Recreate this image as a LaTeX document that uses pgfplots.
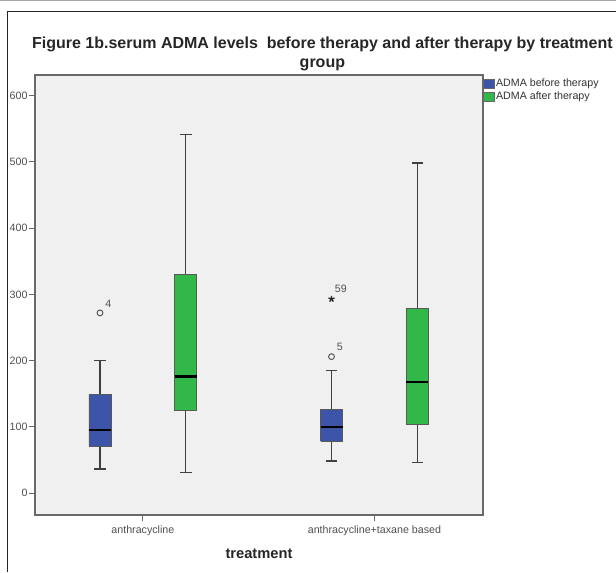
\documentclass[border=0pt]{standalone}
\usepackage{pgfplots}
\pgfplotsset{compat=1.18}
\usepackage{fontspec}
\setmainfont{Liberation Sans}
\definecolor{admablue}{RGB}{61,85,168}
\definecolor{admagreen}{RGB}{50,184,72}
\definecolor{axgray}{RGB}{105,105,105}
\definecolor{txtgray}{RGB}{80,80,80}
\definecolor{plotbg}{RGB}{240,240,240}
\begin{document}
\begin{tikzpicture}
\path[use as bounding box, fill=white] (0pt,0pt) rectangle (462pt,429pt);
\draw[gray!70, line width=0.6pt] (0pt,428.4pt) -- (462pt,428.4pt);
\draw[black!85, line width=0.7pt] (5.6pt,0pt) -- (5.6pt,420.5pt) -- (462pt,420.5pt);
\node[align=center, font=\bfseries\fontsize{12}{13.6}\selectfont, text=black!85, inner sep=0pt] at (241.8pt,388.6pt)
  {Figure 1b.serum ADMA levels\ \ before therapy and after therapy by treatment\\group};
\begin{axis}[
  at={(26.25pt,42.75pt)}, anchor=south west,
  scale only axis, width=336pt, height=330pt,
  xmin=0.534, xmax=2.469, ymin=-33, ymax=631,
  axis background/.style={fill=plotbg},
  axis line style={axgray, line width=0.9pt},
  xtick={1,2}, xticklabels={anthracycline, anthracycline+taxane based},
  ytick={0,100,...,600},
  tick align=outside, major tick length=4.8pt,
  tick style={axgray, line width=0.8pt},
  xtick pos=bottom, ytick pos=left,
  /pgf/number format/assume math mode=true,
  ticklabel style={font=\fontsize{8}{9}\selectfont, text=txtgray},
  yticklabel style={inner sep=0.6pt},
  xticklabel style={inner sep=2pt, yshift=-1pt},
  xlabel={treatment},
  xlabel style={at={(axis description cs:0.5,-0.0886)}, anchor=center, font=\bfseries\fontsize{11}{13}\selectfont, text=black!85},
  legend style={at={(axis description cs:1.0,0.995)}, anchor=north west, draw=none, fill=none,
    font=\fontsize{8}{9.5}\selectfont, text=black!80, inner sep=0pt, row sep=0.6pt,
    nodes={inner sep=1pt}},
  legend cell align=left,
  unbounded coords=jump,
  clip=false,
]
\addlegendimage{legend image code/.code={\draw[fill=admablue, draw=black!60, line width=0.4pt] (0pt,-3.3pt) rectangle (8.2pt,3.3pt);}}
\addlegendentry{ADMA before therapy}
\addlegendimage{legend image code/.code={\draw[fill=admagreen, draw=black!60, line width=0.4pt] (0pt,-3.3pt) rectangle (8.2pt,3.3pt);}}
\addlegendentry{ADMA after therapy}

% ---- whiskers (stem + cap) ----
% anthracycline, before: lw 36.6, q1 70.3, med 95, q3 148.6, uw 200
\addplot[forget plot, black!75, line width=1pt, mark=none] coordinates {
(0.8147,148.6) (0.8147,200) (0.8147,nan) (0.7897,200) (0.8397,200) (0.8147,nan)
(0.8147,70.3) (0.8147,36.6) (0.8147,nan) (0.7897,36.6) (0.8397,36.6)};
% anthracycline, after: lw 31, q1 124.5, med 176, q3 330, uw 541
\addplot[forget plot, black!75, line width=1pt, mark=none] coordinates {
(1.1853,330) (1.1853,541) (1.1853,nan) (1.1603,541) (1.2103,541) (1.1853,nan)
(1.1853,124.5) (1.1853,31) (1.1853,nan) (1.1603,31) (1.2103,31)};
% anthracycline+taxane, before: lw 48.7, q1 78, med 100, q3 126.6, uw 185
\addplot[forget plot, black!75, line width=1pt, mark=none] coordinates {
(1.8147,126.6) (1.8147,185) (1.8147,nan) (1.7897,185) (1.8397,185) (1.8147,nan)
(1.8147,78) (1.8147,48.7) (1.8147,nan) (1.7897,48.7) (1.8397,48.7)};
% anthracycline+taxane, after: lw 46.7, q1 103, med 168, q3 278, uw 498
\addplot[forget plot, black!75, line width=1pt, mark=none] coordinates {
(2.1853,278) (2.1853,498) (2.1853,nan) (2.1603,498) (2.2103,498) (2.1853,nan)
(2.1853,103) (2.1853,46.7) (2.1853,nan) (2.1603,46.7) (2.2103,46.7)};

% ---- boxes (q1 to q3) ----
\addplot[forget plot, fill=admablue, draw=black!65, line width=0.7pt, mark=none] coordinates {
(0.7672,70.3) (0.8622,70.3) (0.8622,148.6) (0.7672,148.6) (0.7672,70.3)};
\addplot[forget plot, fill=admagreen, draw=black!65, line width=0.7pt, mark=none] coordinates {
(1.1378,124.5) (1.2328,124.5) (1.2328,330) (1.1378,330) (1.1378,124.5)};
\addplot[forget plot, fill=admablue, draw=black!65, line width=0.7pt, mark=none] coordinates {
(1.7672,78) (1.8622,78) (1.8622,126.6) (1.7672,126.6) (1.7672,78)};
\addplot[forget plot, fill=admagreen, draw=black!65, line width=0.7pt, mark=none] coordinates {
(2.1378,103) (2.2328,103) (2.2328,278) (2.1378,278) (2.1378,103)};

% ---- medians ----
\addplot[forget plot, black, line width=1.7pt, mark=none] coordinates {
(0.7672,95) (0.8622,95) (0.8622,nan) (1.1378,176) (1.2328,176) (1.2328,nan)
(1.7672,100) (1.8622,100) (1.8622,nan) (2.1378,168) (2.2328,168)};

% ---- outliers (circles) ----
\addplot[forget plot, only marks, mark=o, mark size=2.2pt, mark options={txtgray, line width=0.7pt},
  nodes near coords, point meta=explicit symbolic,
  nodes near coords style={anchor=center, xshift=6.2pt, yshift=7pt, font=\fontsize{8}{9}\selectfont, text=txtgray}]
  table[meta=label] {
x y label
0.8147 272 4
1.8147 206 5
};
% ---- extreme (star) ----
\addplot[forget plot, only marks, mark=star, mark size=2.4pt, mark options={black!85, line width=1pt},
  nodes near coords, point meta=explicit symbolic,
  nodes near coords style={anchor=center, xshift=7pt, yshift=7.5pt, font=\fontsize{8}{9}\selectfont, text=txtgray}]
  table[meta=label] {
x y label
1.8147 293 59
};
\end{axis}
\end{tikzpicture}
\end{document}
